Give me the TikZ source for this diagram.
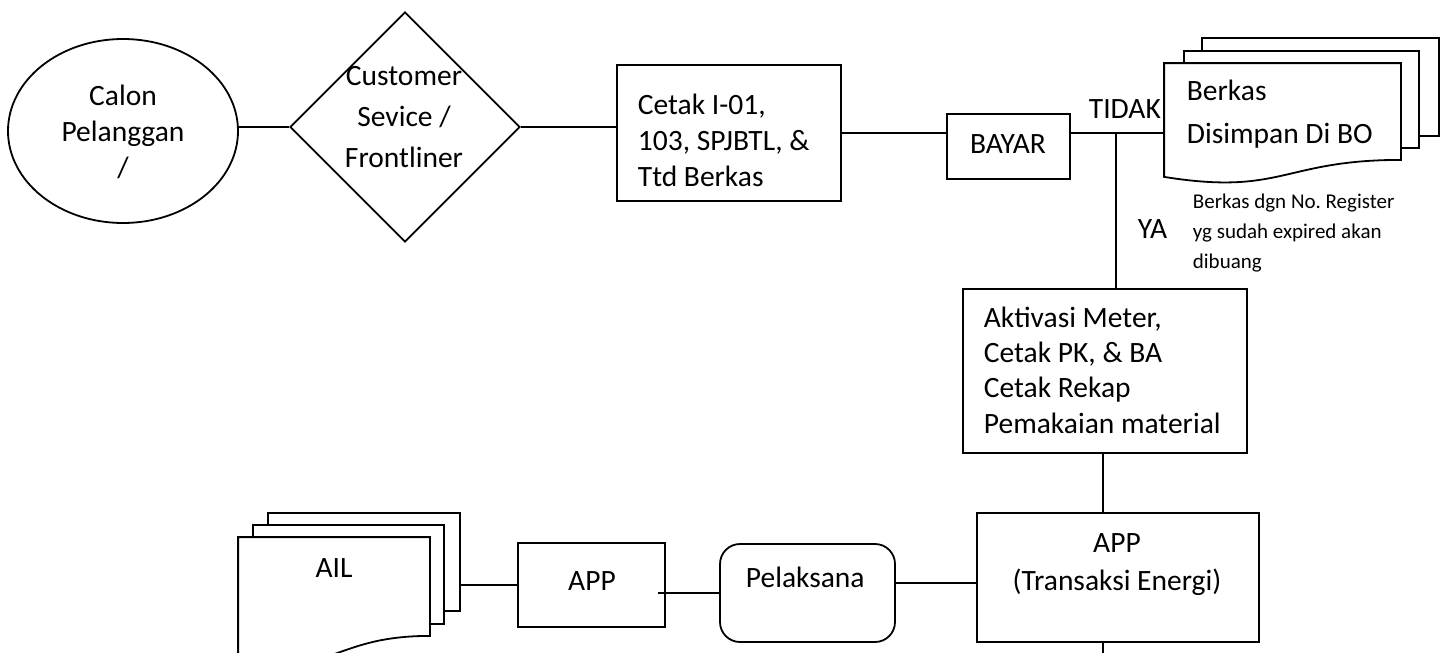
\documentclass[tikz,border=0pt]{standalone}
\usepackage{fontspec}
\setmainfont{Carlito}
\usetikzlibrary{shapes.geometric,calc}

\begin{document}
\begin{tikzpicture}[x=1pt,y=-1pt,line width=1.8pt,
  big/.style={font=\fontsize{29.5}{36}\selectfont,inner sep=0pt},
  small/.style={font=\fontsize{21}{30}\selectfont,inner sep=0pt},
  stepbox/.style={draw,fill=white,rectangle,inner sep=0pt},
  sheet/.style={rectangle,inner sep=0pt}]
\useasboundingbox (0,0) rectangle (1448,653);
\clip (0,0) rectangle (1448,653);

% start and first contact
\node[draw,ellipse,minimum width=230,minimum height=184,inner sep=0pt] (calon) at (123,131) {};
\node[draw,diamond,minimum width=230,minimum height=230,inner sep=0pt] (cs) at (405,127) {};

% process boxes
\node[stepbox,minimum width=224,minimum height=136] (cetak) at (729,133) {};
\node[stepbox,minimum width=123,minimum height=65] (bayar) at (1008.5,146.5) {};
\node[stepbox,minimum width=284,minimum height=164] (aktiv) at (1105,371) {};
\node[stepbox,minimum width=282,minimum height=129] (appte) at (1118,577.5) {};
\node[stepbox,rounded corners=20pt,minimum width=175,minimum height=98] (pel) at (807.5,593) {};
\node[stepbox,minimum width=147,minimum height=84] (appk) at (591.5,585) {};

% stacked documents: Berkas
\node[sheet,minimum width=235,minimum height=96] (berkasC) at (1320.5,87) {};
\node[sheet,minimum width=233,minimum height=95] (berkasB) at (1301.5,99.5) {};
\node[sheet,minimum width=235,minimum height=95] (berkas) at (1282.5,111.5) {};
\draw[fill=white] (berkasC.north west) rectangle (berkasC.south east);
\draw[fill=white] (berkasB.north west) rectangle (berkasB.south east);
\draw[fill=white] (berkas.north west) -- (berkas.north east) -- (berkas.south east)
  .. controls ($(berkas.south)$) and ($(berkas.south)+(0,36)$) .. ($(berkas.south west)+(0,17)$) -- cycle;

% stacked documents: AIL
\node[sheet,minimum width=190,minimum height=96] (ailC) at (364,562) {};
\node[sheet,minimum width=189,minimum height=97] (ailB) at (348.5,574.5) {};
\node[sheet,minimum width=190,minimum height=97] (ail) at (334,586.5) {};
\draw[fill=white] (ailC.north west) rectangle (ailC.south east);
\draw[fill=white] (ailB.north west) rectangle (ailB.south east);
\draw[fill=white] (ail.north west) -- (ail.north east) -- (ail.south east)
  .. controls ($(ail.south)$) and ($(ail.south)+(0,40)$) .. ($(ail.south west)+(0,26)$) -- cycle;

% connectors
\draw (cs.west) -- (cs.west -| calon.east);
\draw (cs.east) -- (cs.east -| cetak.west);
\draw (cetak.east) -- (cetak.east -| bayar.west);
\draw (bayar.east |- cetak.east) -- (cetak.east -| berkas.west);
\coordinate (jn) at (1116,133);
\draw (jn) -- (jn |- aktiv.north);
\coordinate (down) at (1103,0);
\draw (down |- aktiv.south) -- (down |- appte.north);
\coordinate (exit) at (1103,653);
\draw (exit |- appte.south) -- (exit);
\path ([yshift=-5.5pt]appte.west) coordinate (q);
\draw (q) -- (q -| pel.east);
\draw ([xshift=-8pt]appk.east |- pel.west) -- (pel.west);
\draw (appk.west) -- (appk.west -| ailC.east);

% texts (multi-line nodes are anchored at the baseline of their last line)
\node[big,align=center,anchor=base] (tcalon) at (123,177) {Calon\\Pelanggan\\/};
\node[big,align=center,anchor=base,font=\fontsize{29.5}{41}\selectfont] (tcs) at (404,167) {Customer\\Sevice /\\Frontliner};
\node[big,align=left,anchor=base west] (tcetak) at (637,186) {Cetak I-01,\\103, SPJBTL, \&\\Ttd Berkas};
\node[big,anchor=base] (tbayar) at (1008,153) {BAYAR};
\node[big,anchor=base west] (ttidak) at (1088,118) {TIDAK};
\node[big,anchor=base west] (tya) at (1137,238) {YA};
\node[big,align=left,anchor=base west,font=\fontsize{29.5}{43}\selectfont] (tberkas) at (1186,143) {Berkas\\Disimpan Di BO};
\node[small,align=left,anchor=base west] (tnote) at (1192,268) {Berkas dgn No.\ Register\\yg sudah expired akan\\dibuang};
\node[big,align=left,anchor=base west,font=\fontsize{29.5}{35.3}\selectfont] (taktiv) at (983,433) {Aktivasi Meter,\\Cetak PK, \& BA\\Cetak Rekap\\Pemakaian material};
\node[big,align=center,anchor=base,font=\fontsize{29.5}{38}\selectfont] (tappte) at (1117,590) {APP\\(Transaksi Energi)};
\node[big,anchor=base west] (tpel) at (745,587) {Pelaksana};
\node[big,anchor=base] (tappk) at (592,590) {APP};
\node[big,anchor=base] (tail) at (334,577) {AIL};
\end{tikzpicture}
\end{document}
